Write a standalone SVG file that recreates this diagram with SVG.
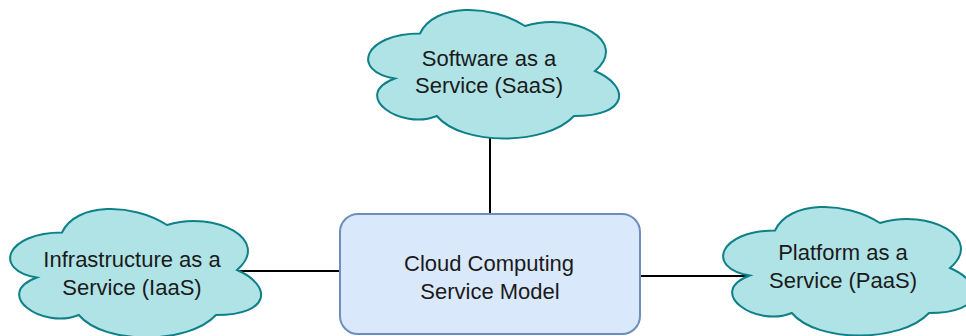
<svg xmlns="http://www.w3.org/2000/svg" xmlns:xlink="http://www.w3.org/1999/xlink" width="966" height="336" viewBox="0 0 966 336">
  <style>
    .cloud { fill: #b0e3e6; stroke: #0e8088; stroke-width: 2; }
    .box { fill: #dae8fc; stroke: #6c8ebf; stroke-width: 2; }
    .edge { stroke: #000000; stroke-width: 2; fill: none; }
    .label { font-family: "Liberation Sans", Arial, Helvetica, sans-serif; font-size: 22px; fill: #1a1a1a; text-anchor: middle; }
  </style>
  <defs>
    <!-- cloud outline in a 280 x 150 box -->
    <path id="cloudShape" d="M70,37.5 C14,37.5 0,75 44.8,82.5 C0,99 50.4,135 86.8,120 C112,150 196,150 224,120 C280,120 280,90 245,75 C280,45 224,15 175,30 C140,7.5 84,7.5 70,37.5 Z"/>
  </defs>

  <!-- connectors -->
  <g id="connectors">
    <line class="edge" x1="490" y1="136" x2="490" y2="214"/>
    <line class="edge" x1="237" y1="271" x2="340" y2="271"/>
    <line class="edge" x1="640" y1="276" x2="750" y2="276"/>
  </g>

  <g id="saas">
    <use xlink:href="#cloudShape" class="cloud" transform="translate(350,-4)"/>
    <text class="label" x="489" y="66">Software as a</text>
    <text class="label" x="489" y="93">Service (SaaS)</text>
  </g>

  <g id="iaas">
    <use xlink:href="#cloudShape" class="cloud" transform="translate(-8,195)"/>
    <text class="label" x="132" y="267">Infrastructure as a</text>
    <text class="label" x="132" y="295">Service (IaaS)</text>
  </g>

  <g id="paas">
    <use xlink:href="#cloudShape" class="cloud" transform="translate(705,193)"/>
    <text class="label" x="843" y="260">Platform as a</text>
    <text class="label" x="843" y="288">Service (PaaS)</text>
  </g>

  <g id="model">
    <rect class="box" x="340" y="214" width="300" height="120" rx="18" ry="18"/>
    <text class="label" x="489" y="271">Cloud Computing</text>
    <text class="label" x="490" y="299">Service Model</text>
  </g>
</svg>
